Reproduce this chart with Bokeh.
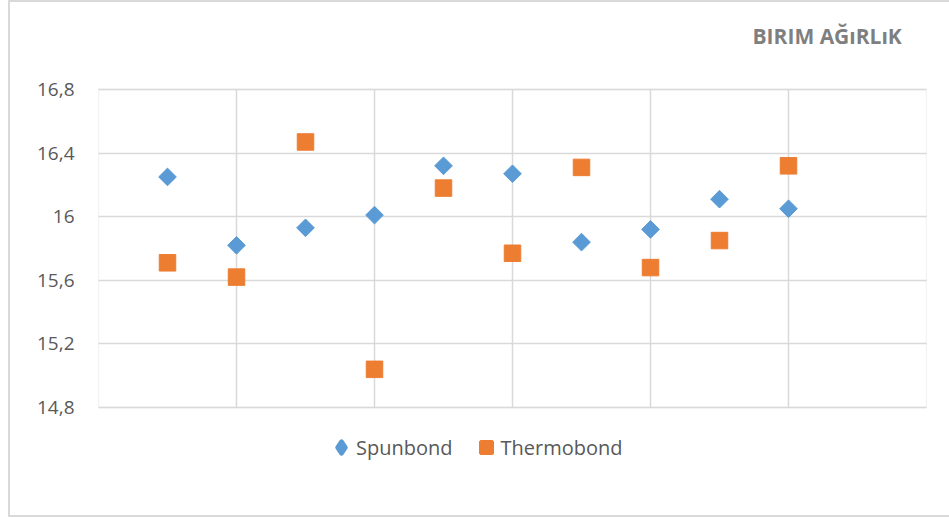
import math
from bokeh.plotting import figure
from bokeh.models import (ColumnDataSource, Range1d, FixedTicker, Legend, LegendItem, Label,
                          BoxAnnotation)
from bokeh.embed import file_html
from bokeh.resources import INLINE

# ---- data ----
samples = [1, 2, 3, 4, 5, 6, 7, 8, 9, 10]
spunbond = [16.25, 15.82, 15.93, 16.01, 16.32, 16.27, 15.84, 15.92, 16.11, 16.05]
thermobond = [15.71, 15.62, 16.47, 15.04, 16.18, 15.77, 16.31, 15.68, 15.85, 16.32]
y_ticks = [14.8, 15.2, 15.6, 16.0, 16.4, 16.8]
y_tick_labels = ["14,8", "15,2", "15,6", "16", "16,4", "16,8"]
x_grid = [2, 4, 6, 8, 10]
x_min, x_max = 0, 12
y_min, y_max = 14.8, 16.8
title_text = "BIRIM AĞıRLıK"

FONT = "Open Sans"
GRID = "#d9d9d9"
BLUE = "#5b9bd5"
ORANGE = "#ed7d31"

# layout (pixels)
W, H = 949, 517
PLOT_LEFT, PLOT_RIGHT = 98, 926      # pixel columns of the plot area edges
PLOT_TOP, PLOT_BOTTOM = 89, 407      # pixel rows of the value axis ends
FRAME_BOTTOM = 507
ppy = (PLOT_BOTTOM - PLOT_TOP) / (y_max - y_min)
ppx = (PLOT_RIGHT - PLOT_LEFT) / (x_max - x_min)
y_range = Range1d(y_min - (FRAME_BOTTOM - PLOT_BOTTOM) / ppy, y_max + PLOT_TOP / ppy)
x_range = Range1d(x_min - 1 / ppx, x_max + 1 / ppx)

p = figure(width=W, height=H, output_backend="svg", toolbar_location=None,
           x_range=x_range, y_range=y_range,
           min_border_left=PLOT_LEFT - 1, min_border_right=W - PLOT_RIGHT - 1,
           min_border_top=0, min_border_bottom=H - FRAME_BOTTOM)
p.background_fill_color = None
p.border_fill_color = None
p.outline_line_color = None
p.styles = {
    "background-color": "white",
    "background-image": ("linear-gradient(#d9d9d9, #d9d9d9), "
                         "linear-gradient(#d9d9d9, #d9d9d9), "
                         "linear-gradient(#d9d9d9, #d9d9d9)"),
    "background-size": "2px 100%, 100% 2px, 100% 2px",
    "background-position": "8px 0px, 8px 515px, 8px 0px",
    "background-repeat": "no-repeat",
}

p.xaxis.visible = False
p.xgrid.ticker = FixedTicker(ticks=x_grid)
p.xgrid.cross_bounds = (y_min, y_max)
p.xgrid.grid_line_color = GRID
p.xgrid.grid_line_width = 1.5

yax = p.yaxis[0]
yax.ticker = FixedTicker(ticks=y_ticks)
yax.major_label_overrides = {t: l for t, l in zip(y_ticks, y_tick_labels)}
yax.axis_line_color = None
yax.major_tick_line_color = None
yax.minor_tick_line_color = None
yax.major_tick_out = 0
yax.major_tick_in = 0
yax.major_label_standoff = 23
yax.major_label_text_font = FONT
yax.major_label_text_font_size = "19px"
yax.major_label_text_color = "#595959"
p.ygrid.ticker = FixedTicker(ticks=y_ticks)
p.ygrid.cross_bounds = (x_min, x_max)
p.ygrid.grid_line_color = GRID
p.ygrid.grid_line_width = 1.5

# plot-area border
p.add_layout(BoxAnnotation(left=x_min, right=x_max, bottom=y_min, top=y_max,
                           fill_color=None, line_color=GRID, line_width=1.5))

src = ColumnDataSource(dict(x=samples, s=spunbond, t=thermobond))
r1 = p.scatter("x", "s", source=src, marker="square", angle=math.pi / 4, size=12.5,
               fill_color=BLUE, line_color=BLUE)
r2 = p.scatter("x", "t", source=src, marker="square", size=16.5,
               fill_color=ORANGE, line_color=ORANGE)

# legend-only swatches (NaN point, never drawn in the plot): the legend sizes
# markers from its glyph box, the outline widths tune the swatch sizes
blank = ColumnDataSource(dict(x=[float("nan")], y=[float("nan")]))
l1 = p.scatter("x", "y", source=blank, marker="diamond",
               fill_color=BLUE, line_color=BLUE, line_width=4.5, line_join="round")
l2 = p.scatter("x", "y", source=blank, marker="square",
               fill_color=ORANGE, line_color=ORANGE, line_width=3)

legend = Legend(items=[LegendItem(label="Spunbond", renderers=[l1]),
                       LegendItem(label="Thermobond", renderers=[l2])],
                orientation="horizontal", location=(229, FRAME_BOTTOM - 462),
                label_text_font=FONT, label_text_font_size="20px",
                label_text_color="#595959", glyph_width=30, glyph_height=30,
                label_standoff=0, spacing=18, padding=0, margin=0,
                border_line_color=None, background_fill_alpha=0)
p.add_layout(legend, "center")

p.add_layout(Label(x=655, y=FRAME_BOTTOM - 35, x_units="screen", y_units="screen",
                   text=title_text, text_font=FONT, text_font_style="bold",
                   text_font_size="21px", text_color="#7f7f7f",
                   text_baseline="middle"))

open("out.html", "w").write(file_html(p, INLINE))
